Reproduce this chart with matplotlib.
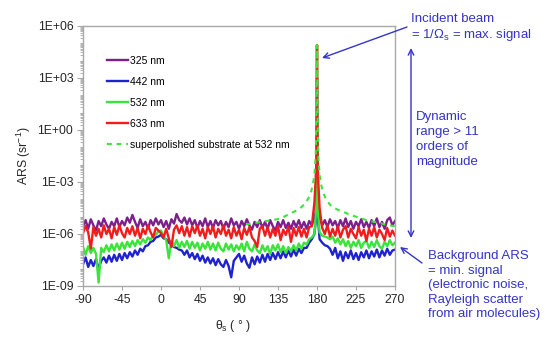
import numpy as np
import matplotlib
matplotlib.use("Agg")
import matplotlib.pyplot as plt
from matplotlib.ticker import FixedLocator, LogLocator, FuncFormatter

plt.rcParams['font.family'] = ['Liberation Sans', 'DejaVu Sans']
plt.rcParams['axes.unicode_minus'] = False

# scatter angle grid (deg), read every 3 deg from -90 to 270
theta = np.arange(-90, 271, 3)

# log10(ARS), one row = 30 deg
ars_325 = [-5.6, -5.2, -5.7, -5.15, -5.5, -5.8, -5.25, -5.55, -5.1, -5.45,
           -5.7, -5.3, -5.55, -5.1, -5.6, -5.25, -5.5, -5.05, -5.35, -4.9,
           -5.3, -5.65, -5.15, -5.55, -5.3, -5.7, -5.2, -5.5, -5.1, -5.45,
           -5.2, -5.6, -5.25, -5.7, -5.15, -5.4, -4.85, -5.2, -5.35, -5.05,
           -5.45, -5.1, -5.5, -5.2, -5.65, -5.25, -5.55, -5.1, -5.6, -5.25,
           -5.65, -5.2, -5.5, -5.25, -5.7, -5.3, -5.6, -5.1, -5.5, -5.3,
           -5.7, -5.25, -5.55, -5.15, -5.5, -5.75, -5.3, -5.6, -5.2, -5.65,
           -5.3, -5.7, -5.2, -5.55, -5.8, -5.3, -5.6, -5.2, -5.65, -5.35,
           -5.7, -5.25, -5.6, -5.2, -5.65, -5.3, -5.7, -5.25, -5.5, -5.0,
           1.0, -5.05, -5.5, -5.2, -5.6, -5.15, -5.5, -5.25, -5.65, -5.2,
           -5.55, -5.1, -5.6, -5.25, -5.7, -5.3, -5.55, -5.15, -5.6, -5.3,
           -5.65, -5.2, -5.55, -5.1, -5.6, -5.3, -5.7, -5.2, -5.05, -5.5,
           -5.25]
ars_442 = [-7.75, -7.35, -7.9, -7.5, -7.85, -7.45, -8.0, -7.55, -7.35, -7.65,
           -7.25, -7.6, -7.2, -7.55, -7.15, -7.5, -7.1, -7.4, -7.05, -7.3,
           -6.95, -7.2, -6.85, -7.0, -6.7, -6.65, -6.45, -6.4, -6.2, -6.15,
           -6.05, -6.25, -6.3, -6.5, -6.55, -6.75, -6.8, -6.9, -6.95, -7.2,
           -6.95, -7.35, -7.1, -7.45, -7.15, -7.55, -7.25, -7.65, -7.35, -7.7,
           -7.4, -7.8, -7.45, -7.75, -7.9, -7.5, -7.85, -8.5, -7.55, -7.35,
           -7.15, -7.6, -7.25, -7.7, -7.95, -7.35, -7.75, -7.3, -7.65, -7.2,
           -7.6, -7.15, -7.5, -7.1, -7.45, -7.05, -7.4, -7.0, -7.35, -6.95,
           -7.3, -6.9, -7.25, -6.85, -7.1, -6.8, -6.8, -6.5, -6.3, -6.0,
           3.0, -6.3, -6.5, -6.65, -6.7, -6.85, -7.2, -6.8, -7.4, -7.0,
           -7.55, -7.05, -7.4, -6.95, -7.45, -7.1, -7.5, -7.05, -7.35, -6.95,
           -7.4, -7.0, -7.3, -6.9, -7.35, -6.95, -7.25, -6.85, -7.2, -6.95,
           -6.9]
ars_532 = [-6.75, -7.2, -6.7, -7.1, -6.8, -7.15, -8.8, -6.8, -7.05, -6.65,
           -7.0, -6.6, -6.95, -6.55, -6.9, -6.5, -6.85, -6.45, -6.75, -6.4,
           -6.7, -6.35, -6.6, -6.3, -6.5, -6.2, -6.35, -6.05, -6.05, -5.85,
           -5.8, -6.15, -6.35, -7.4, -6.4, -6.7, -6.35, -6.8, -6.45, -6.75,
           -6.4, -6.85, -6.45, -6.8, -6.5, -6.95, -6.55, -6.85, -6.45, -6.9,
           -6.55, -6.95, -6.5, -6.85, -7.0, -6.55, -6.9, -6.6, -7.0, -6.65,
           -6.9, -6.55, -7.0, -6.45, -6.85, -7.0, -6.6, -6.95, -7.1, -6.65,
           -7.0, -6.7, -7.15, -6.65, -6.95, -6.6, -7.05, -6.7, -7.1, -6.75,
           -7.0, -6.65, -6.95, -6.55, -6.85, -6.5, -6.6, -6.3, -6.2, -6.0,
           4.9, -5.9, -6.1, -6.15, -6.2, -6.3, -6.15, -6.5, -6.25, -6.6,
           -6.3, -6.7, -6.4, -6.8, -6.45, -6.7, -6.35, -6.8, -6.5, -6.4,
           -6.8, -6.45, -6.75, -6.35, -6.7, -6.85, -6.45, -6.7, -6.35, -6.65,
           -6.5]
ars_633 = [-5.95, -5.55, -5.9, -6.85, -5.6, -6.1, -5.7, -6.2, -5.5, -6.0,
           -5.7, -6.25, -5.6, -6.05, -5.5, -5.95, -6.2, -5.65, -6.0, -5.55,
           -6.1, -5.65, -6.25, -5.7, -6.0, -5.5, -5.9, -6.2, -5.65, -5.8,
           -5.95, -6.2, -5.7, -6.25, -6.75, -5.75, -5.5, -5.95, -5.55, -6.1,
           -5.6, -6.15, -5.55, -5.95, -5.5, -6.1, -5.7, -6.25, -5.6, -6.0,
           -5.55, -6.2, -5.7, -6.0, -5.5, -6.1, -5.75, -6.25, -5.6, -6.1,
           -5.75, -6.3, -5.65, -6.05, -5.6, -6.2, -6.4, -6.75, -5.7, -5.55,
           -6.1, -5.6, -6.2, -5.7, -6.1, -5.55, -6.35, -5.75, -6.05, -5.6,
           -6.45, -5.65, -6.1, -5.6, -6.15, -5.7, -6.2, -5.6, -5.55, -4.2,
           4.9, -4.5, -5.65, -6.0, -5.5, -6.15, -5.7, -6.1, -5.55, -6.2,
           -5.75, -5.55, -6.2, -5.7, -6.0, -6.25, -5.6, -6.1, -5.75, -6.4,
           -5.7, -6.1, -5.6, -6.2, -5.75, -6.0, -6.35, -5.65, -6.15, -5.8,
           -6.1]

# extra points on the flanks of the specular peak at 180 deg
theta_peak = [178.5, 179.3, 179.7, 180.3, 180.7, 181.5]
peak_325 = [-4.8, -3.0, -1.0, -1.0, -3.0, -4.8]
peak_442 = [-5.3, -4.0, -1.0, -1.0, -4.0, -5.3]
peak_532 = [-5.0, -3.5, 0.0, 0.0, -3.5, -5.0]
peak_633 = [-2.8, -1.8, 0.5, 0.5, -1.8, -3.0]

# superpolished substrate at 532 nm
theta_sp = [98, 104, 110, 116, 122, 128, 134, 140, 146, 152, 158, 162, 166,
            170, 173, 175, 177, 178.5, 179.5, 180, 180.5, 181.5, 183, 185,
            187, 190, 194, 198, 204, 210, 216, 222, 228, 234, 240, 246, 252,
            258, 264, 270]
ars_sp = [-5.45, -5.4, -5.35, -5.3, -5.25, -5.2, -5.15, -5.05, -4.9, -4.75,
          -4.6, -4.45, -4.25, -3.95, -3.6, -3.2, -2.6, -1.5, 1.5, 4.9, 1.5,
          -1.5, -2.6, -3.2, -3.6, -3.95, -4.25, -4.45, -4.6, -4.7, -4.85,
          -4.95, -5.05, -5.15, -5.25, -5.3, -5.35, -5.45, -5.5, -5.55]

labels = ['325 nm', '442 nm', '532 nm', '633 nm']
colors = ['#7d1f8c', '#1e22d0', '#3ae43a', '#f21c1c']
series = [(ars_325, peak_325), (ars_442, peak_442),
          (ars_532, peak_532), (ars_633, peak_633)]
ann_col = '#3434c8'
txt_col = '#262626'

fig = plt.figure(figsize=(5.51, 3.40), dpi=100)
ax = fig.add_axes([83 / 551, 1 - 286 / 340, 312 / 551, 260 / 340])

for (bg, pk), lab, c in zip(series, labels, colors):
    x = np.concatenate([theta, theta_peak])
    y = np.concatenate([bg, pk])
    order = np.argsort(x, kind='stable')
    ax.plot(x[order], 10.0 ** y[order], color=c, lw=1.7, label=lab)

ax.plot(theta_sp, 10.0 ** np.array(ars_sp), color=colors[2], lw=1.5,
        ls=(0, (2.3, 2.3)), label='superpolished substrate at 532 nm')

ax.set_yscale('log')
ax.set_xlim(-90, 270)
ax.set_ylim(1e-9, 1e6)
ax.set_xticks(range(-90, 271, 45))
ax.yaxis.set_major_locator(FixedLocator([1e-9, 1e-6, 1e-3, 1e0, 1e3, 1e6]))
ax.yaxis.set_minor_locator(LogLocator(base=10, subs=np.arange(1, 10), numticks=200))
ax.yaxis.set_major_formatter(FuncFormatter(lambda v, p: f"{v:.0E}"))
ax.yaxis.set_minor_formatter(FuncFormatter(lambda v, p: ""))

for s in ax.spines.values():
    s.set_color('#a8a8a8')
    s.set_linewidth(1.0)
ax.tick_params(axis='both', which='major', direction='out', length=4,
               color='#a8a8a8', labelsize=8.8, labelcolor=txt_col, pad=3)
ax.tick_params(axis='y', which='minor', direction='out', length=2.5,
               color='#a8a8a8')
ax.tick_params(axis='x', which='major', length=3)

ax.set_ylabel(r'ARS (sr$^\mathregular{-1}$)', fontsize=8.8, color=txt_col, labelpad=3)
ax.set_xlabel(r'θ$_\mathregular{s}$ ( ° )', fontsize=8.8, color=txt_col)
ax.xaxis.set_label_coords(0.48, -0.125)

ax.legend(loc='upper left', bbox_to_anchor=(0.077, 0.885), frameon=False,
          fontsize=7.5, handlelength=2.0, handletextpad=0.2, labelspacing=1.05,
          borderpad=0, borderaxespad=0)

# annotations on the right, placed in figure pixels
def fp(px, py):
    return (px / 551, 1 - py / 340)

fig.text(*fp(411, 19), 'Incident beam', color=ann_col, fontsize=9.5, va='center')
fig.text(*fp(411, 35), r'= 1/Ω$_\mathregular{s}$ = max. signal', color=ann_col,
         fontsize=9.5, va='center')
fig.text(*fp(416, 111), 'Dynamic\nrange > 11\norders of\nmagnitude', color=ann_col,
         fontsize=9.5, va='top', linespacing=1.32)
fig.text(*fp(428, 250), 'Background ARS\n= min. signal\n(electronic noise,\nRayleigh scatter\nfrom air molecules)',
         color=ann_col, fontsize=9.5, va='top', linespacing=1.28)

arrow = dict(arrowstyle='->', color=ann_col, lw=1.0, shrinkA=0, shrinkB=0)
ax.annotate('', xy=fp(322, 58), xycoords='figure fraction',
            xytext=fp(407, 27), textcoords='figure fraction', arrowprops=arrow,
            annotation_clip=False)
ax.annotate('', xy=fp(400, 247), xycoords='figure fraction',
            xytext=fp(422, 263), textcoords='figure fraction', arrowprops=arrow,
            annotation_clip=False)
ax.annotate('', xy=fp(411, 48), xycoords='figure fraction',
            xytext=fp(411, 238), textcoords='figure fraction',
            arrowprops=dict(arrowstyle='<->', color=ann_col, lw=1.0,
                            shrinkA=0, shrinkB=0), annotation_clip=False)

fig.savefig('out.png', dpi=100)
